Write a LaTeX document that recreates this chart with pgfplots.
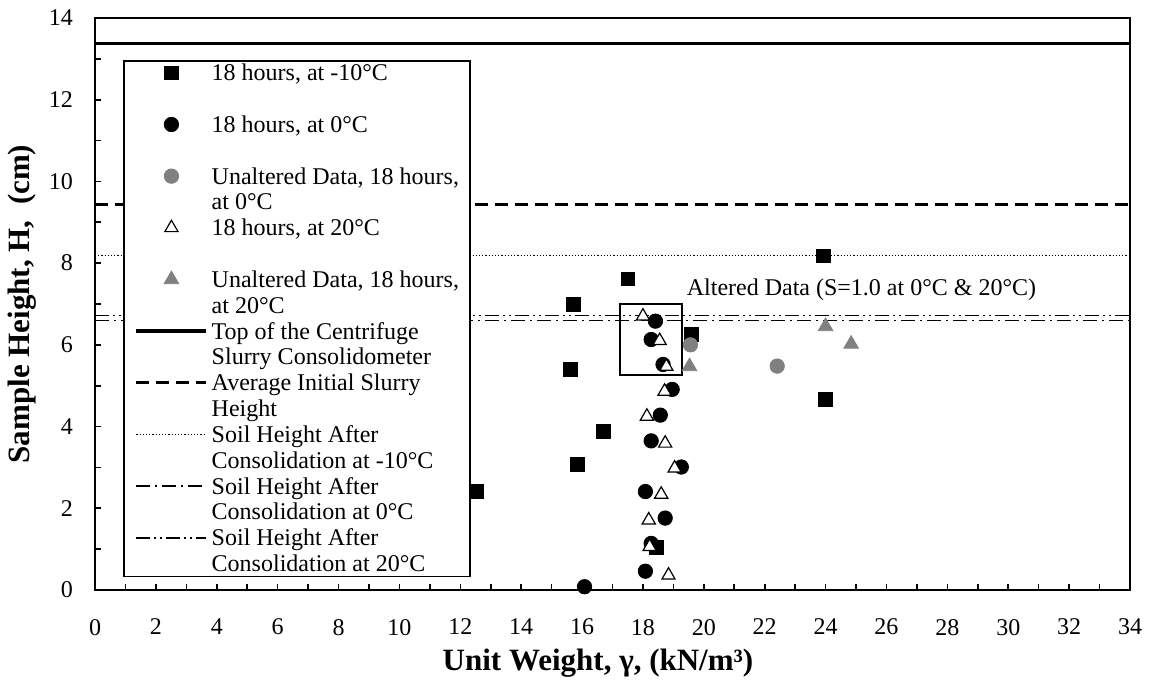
\documentclass[border=0pt]{standalone}
\usepackage{fontspec}
\setmainfont{Liberation Serif}
\usepackage{pgfplots}
\pgfplotsset{compat=1.18}
\definecolor{mgray}{RGB}{128,128,128}
\newcommand{\lgt}[2]{\begin{tabular}[t]{@{}l@{}}#1\\#2\end{tabular}}
\pgfplotsset{
  lineimg/.style={legend image code/.code={\draw[##1] (0pt,0pt) -- (35pt,0pt);}},
  markimg/.style={legend image code/.code={\draw[mark repeat=2,mark phase=2,##1] plot coordinates {(0pt,0pt) (17.5pt,0pt) (35pt,0pt)};}},
}
\begin{document}
\begin{tikzpicture}
\begin{axis}[
  name=ax,
  set layers,
  scale only axis,
  width=517.5pt, height=286pt,
  xmin=0, xmax=34, ymin=0, ymax=14,
  xtick={0,2,...,34}, ytick={0,2,...,14},
  minor x tick num=1, minor y tick num=1,
  tick pos=left, tick align=inside,
  major tick length=3.2pt, minor tick length=3.2pt,
  tick style={black, line width=0.8pt},
  axis line style={line width=0.9pt},
  clip=false,
  /pgf/number format/assume math mode=true,
  tick label style={font=\fontsize{12}{14}\selectfont},
  xticklabel style={yshift=-11pt},
  yticklabel style={xshift=-7.5pt},
  every axis x label/.style={at={(axis description cs:0.486,-0.128)}, anchor=center},
  every axis y label/.style={at={(axis description cs:-0.0705,0.5)}, rotate=90, anchor=center},
  label style={font=\fontsize{15.5}{18}\selectfont\bfseries},
  xlabel={Unit Weight, γ, (kN/m³)},
  ylabel={Sample Height, H,\ \ (cm)},
  legend style={
    at={(axis description cs:0.027,0.9266)}, anchor=north west,
    draw=black, line width=0.8pt, fill=white,
    inner xsep=5.5pt, inner ysep=1pt,
    nodes={inner sep=0pt, text height=9.03pt, text depth=14.4pt},
    cells={anchor=base west},
    row sep=2.4pt, column sep=1.8pt,
    font=\fontsize{12}{12.9}\selectfont,
  },
  legend image post style={yshift=4pt},
]
% 18 hours, -10 C
\addplot[markimg, only marks, mark=square*, mark size=3.4pt, black, line width=0.4pt] coordinates {
  (12.55,2.41) (15.62,5.40) (15.72,6.99) (15.84,3.08) (16.71,3.88)
  (17.51,7.61) (18.44,1.04) (19.59,6.26) (23.93,8.18) (24.00,4.67)
};
\addlegendentry{\lgt{18 hours, at -10°C}{\mbox{}}}
% 18 hours, 0 C
\addplot[markimg, only marks, mark=*, mark size=3.6pt, black, line width=0.4pt, on layer=axis foreground] coordinates {
  (16.08,0.08) (18.08,0.46) (18.27,1.14) (18.73,1.76) (18.08,2.41) (19.26,3.01)
  (18.27,3.65) (18.57,4.28) (18.96,4.91) (18.66,5.52) (18.27,6.13) (18.41,6.58)
};
\addlegendentry{\lgt{18 hours, at 0°C}{\mbox{}}}
% Unaltered 0 C
\addplot[markimg, only marks, mark=*, mark size=3.6pt, mgray, line width=0.4pt, on layer=axis foreground] coordinates {
  (19.56,6.00) (22.41,5.48)
};
\addlegendentry{\lgt{Unaltered Data, 18 hours,}{at 0°C}}
% 18 hours, 20 C
\addplot[markimg, only marks, mark=triangle*, mark size=3.8pt, mark options={draw=black, fill=white}, line width=0.6pt] coordinates {
  (18.84,0.36) (18.22,1.06) (18.19,1.71) (18.60,2.34) (19.04,2.98) (18.73,3.59)
  (18.13,4.25) (18.71,4.86) (18.77,5.47) (18.55,6.10) (18.00,6.70)
};
\addlegendentry{\lgt{18 hours, at 20°C}{\mbox{}}}
% Unaltered 20 C
\addplot[markimg, only marks, mark=triangle*, mark size=4.2pt, mgray, line width=0.4pt] coordinates {
  (19.53,5.47) (24.00,6.45) (24.84,6.02)
};
\addlegendentry{\lgt{Unaltered Data, 18 hours,}{at 20°C}}
% horizontal reference lines
\addplot[lineimg, black, line width=1.7pt, on layer=axis grid] coordinates {(0,13.38) (34,13.38)};
\addlegendentry{\lgt{Top of the Centrifuge}{Slurry Consolidometer}}
\addplot[lineimg, black, line width=1.5pt, dash pattern=on 6.5pt off 3.5pt, on layer=axis grid] coordinates {(0,9.43) (34,9.43)};
\addlegendentry{\lgt{Average Initial Slurry}{Height}}
\addplot[lineimg, black, line width=0.6pt, dash pattern=on 0.6pt off 1pt, on layer=axis grid] coordinates {(0,8.18) (34,8.18)};
\addlegendentry{\lgt{Soil Height After}{Consolidation at -10°C}}
\addplot[lineimg, black, line width=0.8pt, dash pattern=on 7pt off 2.5pt on 1pt off 2.5pt, on layer=axis grid] coordinates {(0,6.60) (34,6.60)};
\addlegendentry{\lgt{Soil Height After}{Consolidation at 0°C}}
\addplot[lineimg, black, line width=0.8pt, dash pattern=on 7pt off 2pt on 1pt off 2pt on 1pt off 2pt, on layer=axis grid] coordinates {(0,6.72) (34,6.72)};
\addlegendentry{\lgt{Soil Height After}{Consolidation at 20°C}}
% annotation
\draw[line width=1pt] (axis cs:17.26,5.25) rectangle (axis cs:19.28,6.99);
\node[anchor=base, inner sep=0pt, font=\fontsize{12}{14}\selectfont] at (axis cs:25.18,7.20) {Altered Data (S=1.0 at 0°C \& 20°C)};
\end{axis}
\pgfresetboundingbox
\path[use as bounding box] ([shift={(-47.5pt,-46.5pt)}]ax.south west) rectangle ([shift={(11.5pt,9pt)}]ax.north east);
\end{tikzpicture}
\end{document}
